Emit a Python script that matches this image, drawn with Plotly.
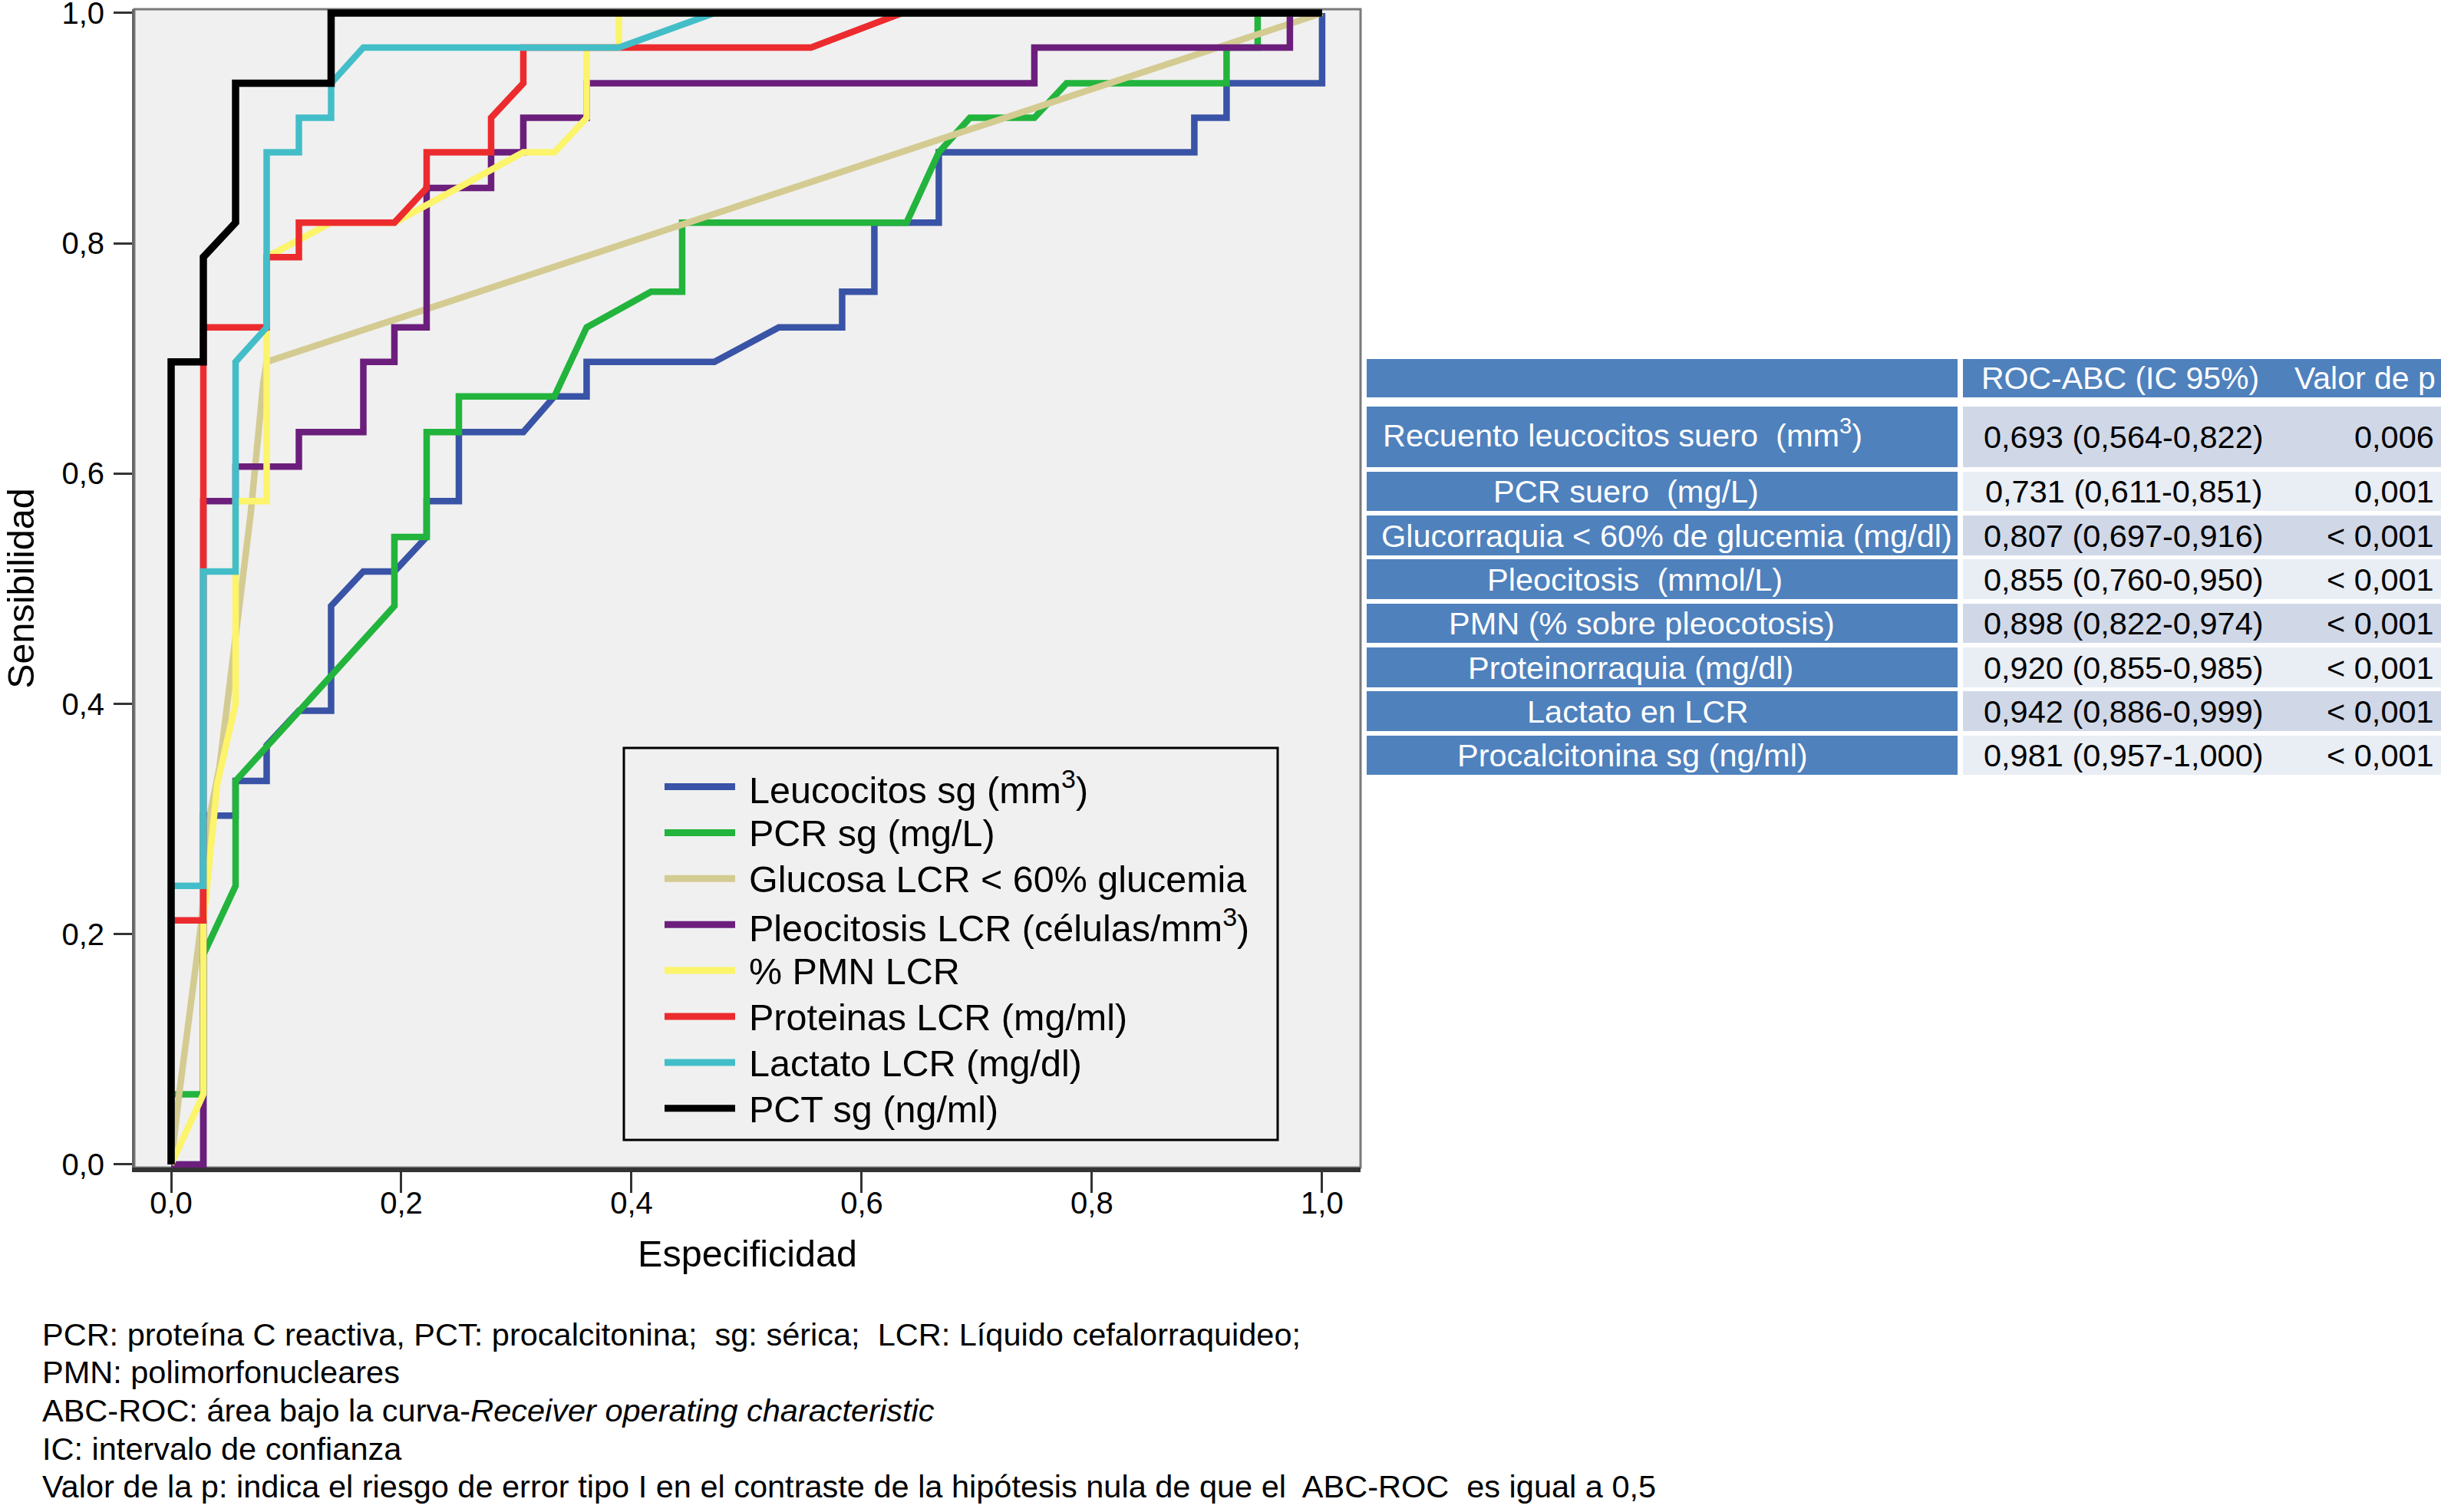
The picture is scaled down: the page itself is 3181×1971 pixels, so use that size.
import plotly.graph_objects as go

# --- datos de las curvas ROC ---
x_leuco = [0, 0.028, 0.028, 0.056, 0.056, 0.083, 0.083, 0.111, 0.139, 0.139, 0.167, 0.194, 0.222, 0.222,
           0.250, 0.250, 0.306, 0.333, 0.361, 0.361, 0.472, 0.528, 0.583, 0.583, 0.611, 0.611, 0.667, 0.667,
           0.889, 0.889, 0.917, 0.917, 1.0, 1.0]
y_leuco = [0, 0, 0.303, 0.303, 0.333, 0.333, 0.364, 0.394, 0.394, 0.485, 0.515, 0.515, 0.545, 0.576,
           0.576, 0.636, 0.636, 0.667, 0.667, 0.697, 0.697, 0.727, 0.727, 0.758, 0.758, 0.818, 0.818, 0.879,
           0.879, 0.909, 0.909, 0.939, 0.939, 1.0]

x_pcr = [0, 0, 0.028, 0.028, 0.056, 0.056, 0.194, 0.194, 0.222, 0.222, 0.250, 0.250, 0.333, 0.361, 0.417,
         0.444, 0.444, 0.639, 0.667, 0.694, 0.750, 0.778, 0.917, 0.917, 0.944, 0.944, 1.0]
y_pcr = [0, 0.061, 0.061, 0.182, 0.242, 0.333, 0.485, 0.545, 0.545, 0.636, 0.636, 0.667, 0.667, 0.727, 0.758,
         0.758, 0.818, 0.818, 0.879, 0.909, 0.909, 0.939, 0.939, 0.970, 0.970, 1.0, 1.0]

x_gluc = [0, 0.007, 0.026, 0.034, 0.042, 0.057, 0.069, 0.080, 0.083, 1.0]
y_gluc = [0, 0.061, 0.208, 0.305, 0.345, 0.472, 0.564, 0.678, 0.697, 1.0]

x_pleo = [0, 0.028, 0.028, 0.056, 0.056, 0.111, 0.111, 0.167, 0.167, 0.194, 0.194, 0.222, 0.222, 0.278,
          0.278, 0.306, 0.306, 0.361, 0.361, 0.750, 0.750, 0.972, 0.972, 1.0]
y_pleo = [0, 0, 0.576, 0.576, 0.606, 0.606, 0.636, 0.636, 0.697, 0.697, 0.727, 0.727, 0.848, 0.848,
          0.879, 0.879, 0.909, 0.909, 0.939, 0.939, 0.970, 0.970, 1.0, 1.0]

x_pmn = [0, 0.028, 0.028, 0.040, 0.056, 0.056, 0.083, 0.083, 0.139, 0.194, 0.306, 0.333, 0.361, 0.361,
         0.389, 0.389, 1.0]
y_pmn = [0, 0.061, 0.210, 0.330, 0.400, 0.576, 0.576, 0.788, 0.818, 0.818, 0.879, 0.879, 0.909, 0.970,
         0.970, 1.0, 1.0]

x_prot = [0, 0, 0.028, 0.028, 0.083, 0.083, 0.111, 0.111, 0.194, 0.222, 0.222, 0.278, 0.278, 0.306, 0.306,
          0.556, 0.635, 1.0]
y_prot = [0, 0.212, 0.212, 0.727, 0.727, 0.788, 0.788, 0.818, 0.818, 0.848, 0.879, 0.879, 0.909, 0.939,
          0.970, 0.970, 1.0, 1.0]

x_lact = [0, 0, 0.028, 0.028, 0.056, 0.056, 0.083, 0.083, 0.111, 0.111, 0.139, 0.139, 0.167, 0.389, 0.472, 1.0]
y_lact = [0, 0.242, 0.242, 0.515, 0.515, 0.697, 0.727, 0.879, 0.879, 0.909, 0.909, 0.939, 0.970, 0.970, 1.0, 1.0]

x_pct = [0, 0, 0.028, 0.028, 0.056, 0.056, 0.139, 0.139, 1.0]
y_pct = [0, 0.697, 0.697, 0.788, 0.818, 0.939, 0.939, 1.0, 1.0]

series_names = ["Leucocitos sg (mm<sup>3</sup>)", "PCR sg (mg/L)", "Glucosa LCR &lt; 60% glucemia",
                "Pleocitosis LCR (células/mm<sup>3</sup>)", "% PMN LCR", "Proteinas LCR (mg/ml)",
                "Lactato LCR (mg/dl)", "PCT sg (ng/ml)"]
series_colors = ["#3953A6", "#22B43C", "#D4CB92", "#6C1E7C", "#FCF46A", "#EC2B2E", "#43BEC8", "#000000"]

# --- tabla ROC-ABC ---
tabla_header = ["ROC-ABC (IC 95%)", "Valor de p"]
tabla_var = ["Recuento leucocitos suero  (mm<sup>3</sup>)", "PCR suero  (mg/L)",
             "Glucorraquia &lt; 60% de glucemia (mg/dl)", "Pleocitosis  (mmol/L)",
             "PMN (% sobre pleocotosis)", "Proteinorraquia (mg/dl)", "Lactato en LCR",
             "Procalcitonina sg (ng/ml)"]
tabla_abc = ["0,693 (0,564-0,822)", "0,731 (0,611-0,851)", "0,807 (0,697-0,916)", "0,855 (0,760-0,950)",
             "0,898 (0,822-0,974)", "0,920 (0,855-0,985)", "0,942 (0,886-0,999)", "0,981 (0,957-1,000)"]
tabla_p = ["0,006", "0,001", "&lt; 0,001", "&lt; 0,001", "&lt; 0,001", "&lt; 0,001", "&lt; 0,001", "&lt; 0,001"]

notas = [
    "PCR: proteína C reactiva, PCT: procalcitonina;  sg: sérica;  LCR: Líquido cefalorraquideo;",
    "PMN: polimorfonucleares",
    "ABC-ROC: área bajo la curva-<i>Receiver operating characteristic</i>",
    "IC: intervalo de confianza",
    "Valor de la p: indica el riesgo de error tipo I en el contraste de la hipótesis nula de que el  ABC-ROC  es igual a 0,5",
]

W, H = 3181, 1971
L, R, T, B = 175, 1773, 12, 1522
FONT = "Liberation Sans, Arial, sans-serif"


def px(v):
    return (v - L) / (R - L)


def py(v):
    return (B - v) / (B - T)


fig = go.Figure()
curvas = [(x_leuco, y_leuco), (x_pcr, y_pcr), (x_gluc, y_gluc), (x_pleo, y_pleo),
          (x_pmn, y_pmn), (x_prot, y_prot), (x_lact, y_lact), (x_pct, y_pct)]
for (xs, ys), nombre, col in zip(curvas, series_names, series_colors):
    fig.add_trace(go.Scatter(x=xs, y=ys, mode="lines", name=nombre, showlegend=False,
                             line=dict(color=col, width=9.5 if col == "#000000" else 8.5)))

shapes = []
annots = []

# marco del gráfico (arriba / derecha)
shapes.append(dict(type="rect", xref="paper", yref="paper", x0=0, x1=1, y0=0, y1=1,
                   line=dict(color="#7a7a7a", width=3), layer="below"))

# leyenda dibujada a mano
shapes.append(dict(type="rect", xref="paper", yref="paper", x0=px(813), x1=px(1665), y0=py(1486), y1=py(975),
                   line=dict(color="black", width=3)))
for i, (nombre, col) in enumerate(zip(series_names, series_colors)):
    yc = 1025.5 + 59.9 * i
    shapes.append(dict(type="line", xref="paper", yref="paper", x0=px(866), x1=px(958), y0=py(yc), y1=py(yc),
                       line=dict(color=col, width=9)))
    annots.append(dict(xref="paper", yref="paper", x=px(974), y=py(yc + 1), text=nombre, showarrow=False,
                       xanchor="left", yanchor="middle", font=dict(size=48.5, color="black", family=FONT)))

# tabla
AZUL = "#4F81BD"
BANDAS = ["#D0D8E8", "#E9EDF4"]
c1x0, c1x1, c2x0, c2x1 = 1781, 2551, 2558, 3181
centros_c1 = [2114, 2119, 2172, 2130, 2139, 2125, 2134, 2127]
shapes.append(dict(type="rect", xref="paper", yref="paper", x0=px(c1x0), x1=px(c1x1), y0=py(518), y1=py(468),
                   fillcolor=AZUL, line=dict(width=0)))
shapes.append(dict(type="rect", xref="paper", yref="paper", x0=px(c2x0), x1=px(c2x1), y0=py(518), y1=py(468),
                   fillcolor=AZUL, line=dict(width=0)))
annots.append(dict(xref="paper", yref="paper", x=px(2763), y=py(493), text=tabla_header[0], showarrow=False,
                   xanchor="center", yanchor="middle", font=dict(size=41, color="white", family=FONT)))
annots.append(dict(xref="paper", yref="paper", x=px(3176), y=py(493), text=tabla_header[1], showarrow=False,
                   xanchor="right", yanchor="middle", font=dict(size=41, color="white", family=FONT)))

filas = [(530, 609), (615, 666), (672, 724), (729, 781), (787, 838), (844, 896), (901, 953), (959, 1010)]
for i, (y0, y1) in enumerate(filas):
    shapes.append(dict(type="rect", xref="paper", yref="paper", x0=px(c1x0), x1=px(c1x1), y0=py(y1), y1=py(y0),
                       fillcolor=AZUL, line=dict(width=0)))
    shapes.append(dict(type="rect", xref="paper", yref="paper", x0=px(c2x0), x1=px(c2x1), y0=py(y1), y1=py(y0),
                       fillcolor=BANDAS[i % 2], line=dict(width=0)))
    yc = (y0 + y1) / 2
    annots.append(dict(xref="paper", yref="paper", x=px(centros_c1[i]), y=py(yc - (4 if i == 0 else 0)),
                       text=tabla_var[i], showarrow=False, xanchor="center", yanchor="middle",
                       font=dict(size=41.5, color="white", family=FONT)))
    annots.append(dict(xref="paper", yref="paper", x=px(2767), y=py(yc), text=tabla_abc[i], showarrow=False,
                       xanchor="center", yanchor="middle", font=dict(size=41.5, color="black", family=FONT)))
    annots.append(dict(xref="paper", yref="paper", x=px(3174), y=py(yc), text=tabla_p[i], showarrow=False,
                       xanchor="right", yanchor="middle", font=dict(size=41.5, color="black", family=FONT)))

# notas al pie
for i, nota in enumerate(notas):
    annots.append(dict(xref="paper", yref="paper", x=px(53), y=py(1739 + 49.7 * i), text=nota, showarrow=False,
                       xanchor="left", yanchor="middle", font=dict(size=41.5, color="black", family=FONT)))

fig.update_layout(
    width=W, height=H,
    margin=dict(l=L, r=W - R, t=T, b=H - B, pad=0),
    paper_bgcolor="white",
    plot_bgcolor="#F0F0F0",
    separators=",.",
    font=dict(family=FONT, size=40, color="black"),
    shapes=shapes,
    annotations=annots,
    xaxis=dict(range=[-0.032, 1.0334], tickvals=[0, 0.2, 0.4, 0.6, 0.8, 1.0], tickformat=".1f",
               showgrid=False, zeroline=False, showline=True, linecolor="#333333", linewidth=6,
               ticks="outside", ticklen=27, tickwidth=3, tickcolor="#333333", automargin=False,
               tickfont=dict(size=40, family=FONT), ticklabelstandoff=-21, ticklabeloverflow="allow",
               title=dict(text="Especificidad", font=dict(size=48.5, family=FONT), standoff=30)),
    yaxis=dict(range=[-0.0027, 1.0033], tickvals=[0, 0.2, 0.4, 0.6, 0.8, 1.0], tickformat=".1f",
               showgrid=False, zeroline=False, showline=True, linecolor="#666666", linewidth=3,
               ticks="outside", ticklen=24, tickwidth=3, tickcolor="#333333", automargin=False,
               tickfont=dict(size=40, family=FONT), ticklabelstandoff=4, ticklabeloverflow="allow",
               title=dict(text="Sensibilidad", font=dict(size=48.5, family=FONT), standoff=30)),
)

fig.write_html("out.html", config={"displayModeBar": False},
               post_script="document.body.style.margin='0';")
